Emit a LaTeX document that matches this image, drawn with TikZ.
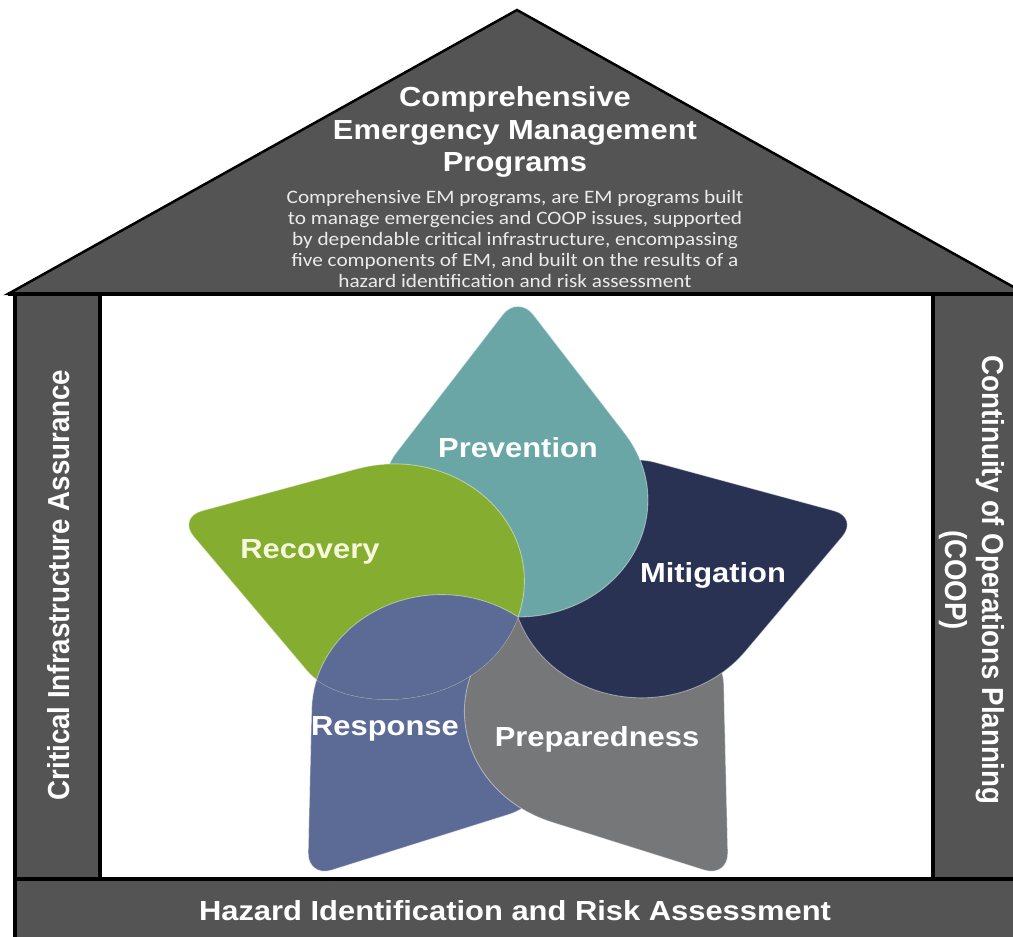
\documentclass[tikz,border=0pt]{standalone}
\usepackage{fontspec}
\setmainfont{Liberation Sans}
\newfontfamily\widefont[FakeStretch=1.12]{Liberation Sans}
\newfontfamily\tallfont[FakeStretch=0.91]{Liberation Sans}
\newfontfamily\notefont[FakeStretch=1.12]{Carlito}
\definecolor{house}{HTML}{545454}
\definecolor{prevteal}{HTML}{6BA6A6}
\definecolor{mitnavy}{HTML}{293252}
\definecolor{prepgray}{HTML}{767779}
\definecolor{respblue}{HTML}{5B6B96}
\definecolor{recgreen}{HTML}{85AD2F}
\definecolor{recpale}{HTML}{F6F8DC}
\newcommand{\petalpath}{(106.8,204.1) [rounded corners=5mm] -- (0,358) -- (-106.8,204.1) [sharp corners] arc[start angle=145.23, end angle=394.77, radius=130] -- cycle}

\begin{document}
\begin{tikzpicture}[x=0.2mm,y=0.2mm,
	wall/.style={line width=0.7mm},
	roofline/.style={line width=0.5mm},
	petal/.style={draw=white,draw opacity=0.45,line width=0.5pt},
	headtext/.style={text=white,inner sep=0pt,align=center,font=\widefont\bfseries\fontsize{15.7}{18.7}\selectfont},
	notetext/.style={text=white!92!black,inner sep=0pt,align=center,font=\notefont\fontsize{10.8}{11.9}\selectfont},
	sidetext/.style={text=white,inner sep=0pt,align=center,font=\tallfont\bfseries\fontsize{17.3}{21}\selectfont},
	petaltext/.style={text=white,inner sep=0pt,font=\widefont\bfseries\fontsize{15.7}{18}\selectfont}]
	\useasboundingbox (0,0) rectangle (1013,936);
	\fill[white] (0,0) rectangle (1013,936);
	\fill[house] (15,-10) rectangle (1030,642);
	\draw[wall,fill=white] (100,57) rectangle (933,642);
	\draw[wall] (15,-10) -- (15,642);
	\draw[wall] (15,57) -- (1030,57);
	\draw[roofline,fill=house] (8,642) -- (517,926) -- (1026,642) -- cycle;
	\draw[wall] (8,642) -- (1030,642);
	\node[headtext] (title) at (515,804) {Comprehensive\\Emergency Management\\Programs};
	\node[notetext] (note) at (515,697) {Comprehensive EM programs, are EM programs built\\to manage emergencies and COOP issues, supported\\by dependable critical infrastructure, encompassing\\five components of EM, and built on the results of a\\hazard identification and risk assessment};
	\node[sidetext,rotate=90] (cia) at (59,351) {Critical Infrastructure Assurance};
	\node[sidetext,rotate=-90] (coop) at (972,356) {Continuity of Operations Planning\\(COOP)};
	\node[headtext] (hira) at (515,25) {Hazard Identification and Risk Assessment};
	\begin{scope}[shift={(518,319)},yscale=0.9]
		\foreach \ang/\col in {-216/respblue,-144/prepgray,-72/mitnavy,0/prevteal,72/recgreen}
			\fill[petal,fill=\col,rotate=\ang] \petalpath;
		\begin{scope}
			\clip[rotate=72] \petalpath;
			\fill[petal,fill=respblue,rotate=-216] \petalpath;
		\end{scope}
	\end{scope}
	\node[petaltext] (prevention) at (518,488) {Prevention};
	\node[petaltext] (mitigation) at (713,361) {Mitigation};
	\node[petaltext] (preparedness) at (597,197) {Preparedness};
	\node[petaltext] (response) at (385,207) {Response};
	\node[petaltext,text=recpale] (recovery) at (310,384) {Recovery};
\end{tikzpicture}
\end{document}
